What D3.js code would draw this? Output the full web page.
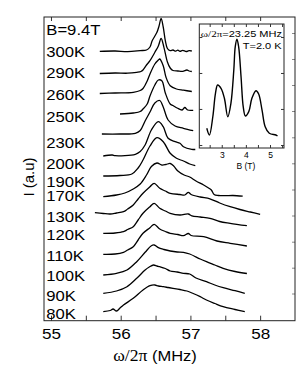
<!DOCTYPE html>
<html>
<head>
<meta charset="utf-8">
<script src="https://cdn.jsdelivr.net/npm/d3@7"></script>
<style>
  body { margin: 0; background: #fff; }
  svg { display: block; font-family: "Liberation Sans", Arial, sans-serif; }
</style>
</head>
<body>
<div id="chart"></div>
<script>
// Tick values
const freqTicks = [55, 56, 57, 58];
const freqMinorTicks = [55, 55.5, 56, 56.5, 57, 57.5, 58];
const sideTicks = [2.72, 5.3, 7.9, 10.52, 13.12, 15.74, 18.34, 20.97, 23.57, 26.17, 28.77];

// Row labels (field + temperatures) and the level they sit at
const rowLabels = ["B=9.4T", "300K", "290K", "260K", "250K", "230K", "200K", "190K",
                   "170K", "130K", "120K", "110K", "100K", "90K", "80K"];
const rowLevels = [29.13, 26.88, 24.83, 22.63, 20.38, 17.83, 15.73, 13.93,
                   12.48, 10.38, 8.63, 6.53, 4.53, 2.48, 0.73];

// Spectra, [frequency (MHz), intensity (a.u, offset)]
const t300K = [[55.70,26.94],[55.92,26.97],[56.10,26.91],[56.28,27.01],[56.37,27.07],[56.42,27.37],
  [56.45,27.97],[56.52,28.84],[56.55,29.47],[56.58,30.22],[56.61,29.37],[56.64,28.0],[56.67,27.22],
  [56.71,27.0],[56.75,27.07],[56.78,26.95],[56.82,27.05],[56.85,26.94],[56.89,27.04],[56.94,26.92],
  [56.98,27.01],[57.02,26.97]];
const t290K = [[55.70,24.72],[55.92,24.77],[56.10,24.75],[56.23,24.84],[56.29,24.92],[56.32,25.07],
  [56.37,25.57],[56.42,26.0],[56.49,26.84],[56.54,27.47],[56.58,28.22],[56.62,27.34],[56.67,25.87],
  [56.71,25.27],[56.75,25.02],[56.82,24.97],[56.89,24.94],[56.95,25.07],[56.98,24.97],[57.02,24.92]];
const t260K = [[55.70,22.72],[55.92,22.77],[56.18,22.84],[56.28,23.02],[56.32,23.22],[56.38,23.97],
  [56.42,24.67],[56.49,25.67],[56.54,26.07],[56.56,26.17],[56.61,25.5],[56.65,24.34],[56.71,23.5],
  [56.80,23.17],[56.90,23.05],[57.02,22.92]];
const t250K = [[55.99,20.67],[56.18,20.77],[56.28,20.92],[56.32,21.17],[56.38,21.67],[56.42,22.47],
  [56.49,23.57],[56.54,24.07],[56.59,24.0],[56.64,22.77],[56.71,21.67],[56.75,21.52],[56.81,21.27],
  [56.88,21.07],[56.92,21.32],[56.96,21.07],[57.04,21.04]];
const t230K = [[55.73,18.67],[55.99,18.67],[56.21,18.74],[56.28,19.02],[56.35,19.97],[56.42,20.87],
  [56.49,21.77],[56.56,22.02],[56.61,21.37],[56.68,20.07],[56.78,19.47],[56.90,19.24],[57.04,19.0]];
const t200K = [[55.75,16.47],[55.88,16.57],[55.92,16.5],[56.21,16.64],[56.28,16.92],[56.35,17.57],
  [56.44,19.07],[56.54,19.9],[56.61,19.4],[56.68,18.24],[56.78,17.9],[56.85,17.74],[56.90,17.4],
  [57.02,17.14],[57.07,17.12]];
const t190K = [[55.75,14.47],[55.99,14.52],[56.16,14.67],[56.25,15.27],[56.32,16.07],[56.42,17.47],
  [56.52,18.3],[56.61,17.9],[56.71,16.74],[56.80,16.24],[56.90,15.97],[56.99,15.67],[57.07,15.5]];
const t170K = [[55.75,12.4],[55.94,12.57],[56.06,12.77],[56.18,13.17],[56.28,13.67],[56.37,14.57],
  [56.44,15.42],[56.52,15.77],[56.59,15.57],[56.65,15.62],[56.71,15.72],[56.76,15.47],[56.82,14.97],
  [56.91,14.57],[56.99,14.37],[57.08,13.97],[57.19,13.57],[57.26,13.27],[57.30,13.07],[57.34,12.62],
  [57.40,12.52],[57.50,12.5],[57.61,12.52],[57.75,12.45]];
const t130K = [[55.63,10.8],[55.75,10.72],[55.85,10.67],[55.94,10.77],[56.04,10.9],[56.10,11.17],
  [56.18,11.57],[56.25,12.17],[56.32,12.74],[56.42,13.4],[56.48,13.74],[56.56,13.24],[56.64,12.97],
  [56.71,12.74],[56.85,12.62],[56.92,12.57],[56.97,12.84],[57.01,12.62],[57.14,12.37],[57.28,12.19],
  [57.42,11.77],[57.57,11.4],[57.71,11.12],[57.86,10.87],[58.00,10.64]];
const t120K = [[55.75,8.74],[55.92,8.77],[56.04,8.9],[56.10,9.12],[56.18,9.4],[56.25,10.07],
  [56.32,10.74],[56.42,11.4],[56.48,11.74],[56.56,11.24],[56.64,10.97],[56.71,10.74],[56.85,10.57],
  [56.97,10.67],[57.02,10.49],[57.14,10.37],[57.28,10.24],[57.42,9.92],[57.57,9.74],[57.81,9.5]];
const t110K = [[55.75,6.64],[55.92,6.67],[56.04,6.84],[56.10,7.07],[56.18,7.4],[56.25,8.07],
  [56.32,8.74],[56.42,9.3],[56.48,9.64],[56.56,9.17],[56.64,8.92],[56.71,8.74],[56.82,8.62],
  [56.90,8.5],[56.97,8.72],[57.01,8.52],[57.19,8.4],[57.38,7.97],[57.57,7.74],[57.81,7.47]];
const t100K = [[55.75,4.57],[55.94,4.74],[56.09,5.07],[56.23,5.9],[56.35,6.84],[56.44,7.5],
  [56.48,7.57],[56.54,7.3],[56.62,7.12],[56.71,6.97],[56.81,6.87],[56.90,6.84],[56.99,6.67],
  [57.14,6.17],[57.23,5.9],[57.35,5.57],[57.47,5.24],[57.64,4.92],[57.81,4.72]];
const t90K = [[55.75,2.74],[55.94,2.97],[56.09,3.4],[56.23,4.24],[56.35,5.07],[56.41,5.37],
  [56.47,5.57],[56.52,5.47],[56.56,5.4],[56.64,5.22],[56.71,4.97],[56.81,4.87],[56.90,4.74],
  [56.99,4.67],[57.08,4.27],[57.23,3.9],[57.35,3.57],[57.47,3.3],[57.64,3.0],[57.78,2.74]];
const t80K = [[55.75,0.9],[55.85,1.02],[55.89,1.17],[55.94,0.97],[55.99,1.27],[56.04,1.57],
  [56.18,2.24],[56.32,3.07],[56.42,3.5],[56.49,3.57],[56.54,3.47],[56.61,3.4],[56.68,3.32],
  [56.75,3.24],[56.85,3.12],[56.95,2.97],[57.04,2.72],[57.14,2.4],[57.23,2.07],[57.35,1.72],
  [57.47,1.4],[57.64,1.12],[57.78,0.9]];

const traces = [t300K, t290K, t260K, t250K, t230K, t200K, t190K,
                t170K, t130K, t120K, t110K, t100K, t90K, t80K];

// Inset: field sweep at 23.25 MHz, T = 2.0 K
const insetField = [2.38, 2.49, 2.63, 2.74, 2.83, 2.97, 3.11, 3.25, 3.38, 3.50, 3.56, 3.63, 3.70,
                    3.80, 3.89, 3.98, 4.12, 4.25, 4.42, 4.53, 4.67, 4.80, 4.97, 5.24, 5.31];
const insetSignal = [0.159, 0.105, 0.252, 0.441, 0.508, 0.481, 0.401, 0.252, 0.360, 0.629, 0.817,
                     0.877, 0.817, 0.575, 0.333, 0.258, 0.293, 0.401, 0.462, 0.435, 0.306, 0.172,
                     0.119, 0.105, 0.097];
const insetTicks = [3, 4, 5];
const insetMinorTicks = [2.5, 3, 3.5, 4, 4.5, 5, 5.5];
const insetSideTicks = [0.024, 0.315, 0.605, 0.895];

const FONT = '"Liberation Sans", Arial, sans-serif';
const SERIF = '"Liberation Serif", "Times New Roman", serif';

function BuildGraph(){
  let width = 305, height = 382;
  let left = 44, right = 295, top = 17, bottom = 320.7;

  let svg = d3.select('#chart')
    .append('svg')
    .attr('width', width)
    .attr('height', height);

  let x_scale = d3.scaleLinear().domain([54.9, 58.5]).range([left, right]);
  let y_scale = d3.scaleLinear().domain([0, 30.37]).range([bottom, top]);

  // Spectra
  let line = d3.line()
    .x(d => x_scale(d[0]))
    .y(d => y_scale(d[1]))
    .curve(d3.curveCatmullRom.alpha(0.5));

  svg.selectAll('path.trace')
    .data(traces)
    .enter()
    .append('path')
    .attr('class', 'trace')
    .attr('d', line)
    .attr('fill', 'none')
    .attr('stroke', '#000')
    .attr('stroke-width', 1.3)
    .attr('stroke-linejoin', 'round');

  // Tick marks, all pointing inwards
  let tickStyle = g => {
    g.select('.domain').remove();
    g.selectAll('.tick line').attr('stroke', '#333');
  };
  svg.append('g').attr('transform', 'translate(0,' + bottom + ')')
    .call(d3.axisBottom(x_scale).tickValues(freqMinorTicks).tickSize(-5).tickFormat(''))
    .call(tickStyle);
  svg.append('g').attr('transform', 'translate(0,' + top + ')')
    .call(d3.axisTop(x_scale).tickValues(freqMinorTicks).tickSize(-4).tickFormat(''))
    .call(tickStyle);
  svg.append('g').attr('transform', 'translate(' + right + ',0)')
    .call(d3.axisRight(y_scale).tickValues(sideTicks).tickSize(-3).tickFormat(''))
    .call(g => { tickStyle(g); g.selectAll('.tick line').attr('stroke', '#888'); });

  // Frequency labels
  svg.append('g').attr('transform', 'translate(0,' + bottom + ')')
    .call(d3.axisBottom(x_scale).tickValues(freqTicks).tickSize(0).tickPadding(8)
      .tickFormat(d3.format('d')))
    .call(g => g.select('.domain').remove())
    .attr('font-size', 15)
    .attr('font-family', FONT)
    .selectAll('text')
    .attr('fill', '#000')
    .attr('transform', 'scale(1.14,1)');

  // Row labels down the left side
  svg.append('g').attr('transform', 'translate(' + left + ',0)')
    .call(d3.axisRight(y_scale).tickValues(rowLevels)
      .tickFormat((d, i) => rowLabels[i]).tickSize(0).tickPadding(2))
    .call(g => g.select('.domain').remove())
    .attr('font-size', 14.5)
    .attr('font-family', FONT)
    .selectAll('text')
    .attr('fill', '#000')
    .attr('transform', 'scale(1.15,1)');

  // Frame
  svg.append('rect')
    .attr('x', left).attr('y', top)
    .attr('width', right - left).attr('height', bottom - top)
    .attr('fill', 'none')
    .attr('stroke', '#222')
    .attr('stroke-width', 1);

  // Axis titles
  svg.append('text')
    .attr('transform', 'translate(34,177) rotate(-90)')
    .attr('text-anchor', 'middle')
    .style('font-size', '15px')
    .text('I (a.u)');

  let xTitle = svg.append('text')
    .attr('transform', 'translate(155,361) scale(1.1,1)')
    .attr('text-anchor', 'middle')
    .style('font-size', '15px');
  xTitle.append('tspan').attr('font-family', SERIF).style('font-size', '16px').text('ω/2π');
  xTitle.append('tspan').text(' (MHz)');

  // Inset
  let ix0 = 199.3, ix1 = 284, iy0 = 24, iy1 = 148;
  let ix = d3.scaleLinear().domain([2.07, 5.58]).range([ix0, ix1]);
  let iy = d3.scaleLinear().domain([0, 1]).range([iy1, iy0]);

  let inset = svg.append('g').attr('id', 'inset');
  inset.append('rect')
    .attr('x', ix0).attr('y', iy0)
    .attr('width', ix1 - ix0).attr('height', iy1 - iy0)
    .attr('fill', '#fff')
    .attr('stroke', '#222')
    .attr('stroke-width', 1);

  inset.append('g').attr('transform', 'translate(0,' + iy1 + ')')
    .call(d3.axisBottom(ix).tickValues(insetMinorTicks).tickSize(-3).tickFormat(''))
    .call(tickStyle);
  inset.append('g').attr('transform', 'translate(0,' + iy0 + ')')
    .call(d3.axisTop(ix).tickValues(insetMinorTicks).tickSize(-3).tickFormat(''))
    .call(tickStyle);
  inset.append('g').attr('transform', 'translate(' + ix0 + ',0)')
    .call(d3.axisLeft(iy).tickValues(insetSideTicks).tickSize(-3).tickFormat(''))
    .call(tickStyle);
  inset.append('g').attr('transform', 'translate(' + ix1 + ',0)')
    .call(d3.axisRight(iy).tickValues(insetSideTicks).tickSize(-3).tickFormat(''))
    .call(tickStyle);

  inset.append('g').attr('transform', 'translate(0,' + iy1 + ')')
    .call(d3.axisBottom(ix).tickValues(insetTicks).tickSize(0).tickPadding(4)
      .tickFormat(d3.format('d')))
    .call(g => g.select('.domain').remove())
    .attr('font-size', 8.5)
    .attr('font-family', FONT)
    .selectAll('text')
    .attr('fill', '#000');

  inset.append('text')
    .attr('x', ix(4)).attr('y', 168.5)
    .attr('text-anchor', 'middle')
    .style('font-size', '8.5px')
    .text('B (T)');

  let insetLine = d3.line()
    .x((d, i) => ix(insetField[i]))
    .y(d => iy(d))
    .curve(d3.curveCatmullRom.alpha(0.5));
  inset.append('path')
    .attr('d', insetLine(insetSignal))
    .attr('fill', 'none')
    .attr('stroke', '#000')
    .attr('stroke-width', 1.4);

  let note = inset.append('text')
    .attr('transform', 'translate(' + (ix0 + 1.5) + ',37.3) scale(1.3,1)')
    .style('font-size', '8.5px');
  note.append('tspan').attr('font-family', SERIF).text('ω/2π');
  note.append('tspan').text('=23.25 MHz');

  inset.append('text')
    .attr('transform', 'translate(242.7,49) scale(1.3,1)')
    .style('font-size', '8.5px')
    .text('T=2.0 K');
}

document.addEventListener('DOMContentLoaded', function(){
  BuildGraph();
});
</script>
</body>
</html>
